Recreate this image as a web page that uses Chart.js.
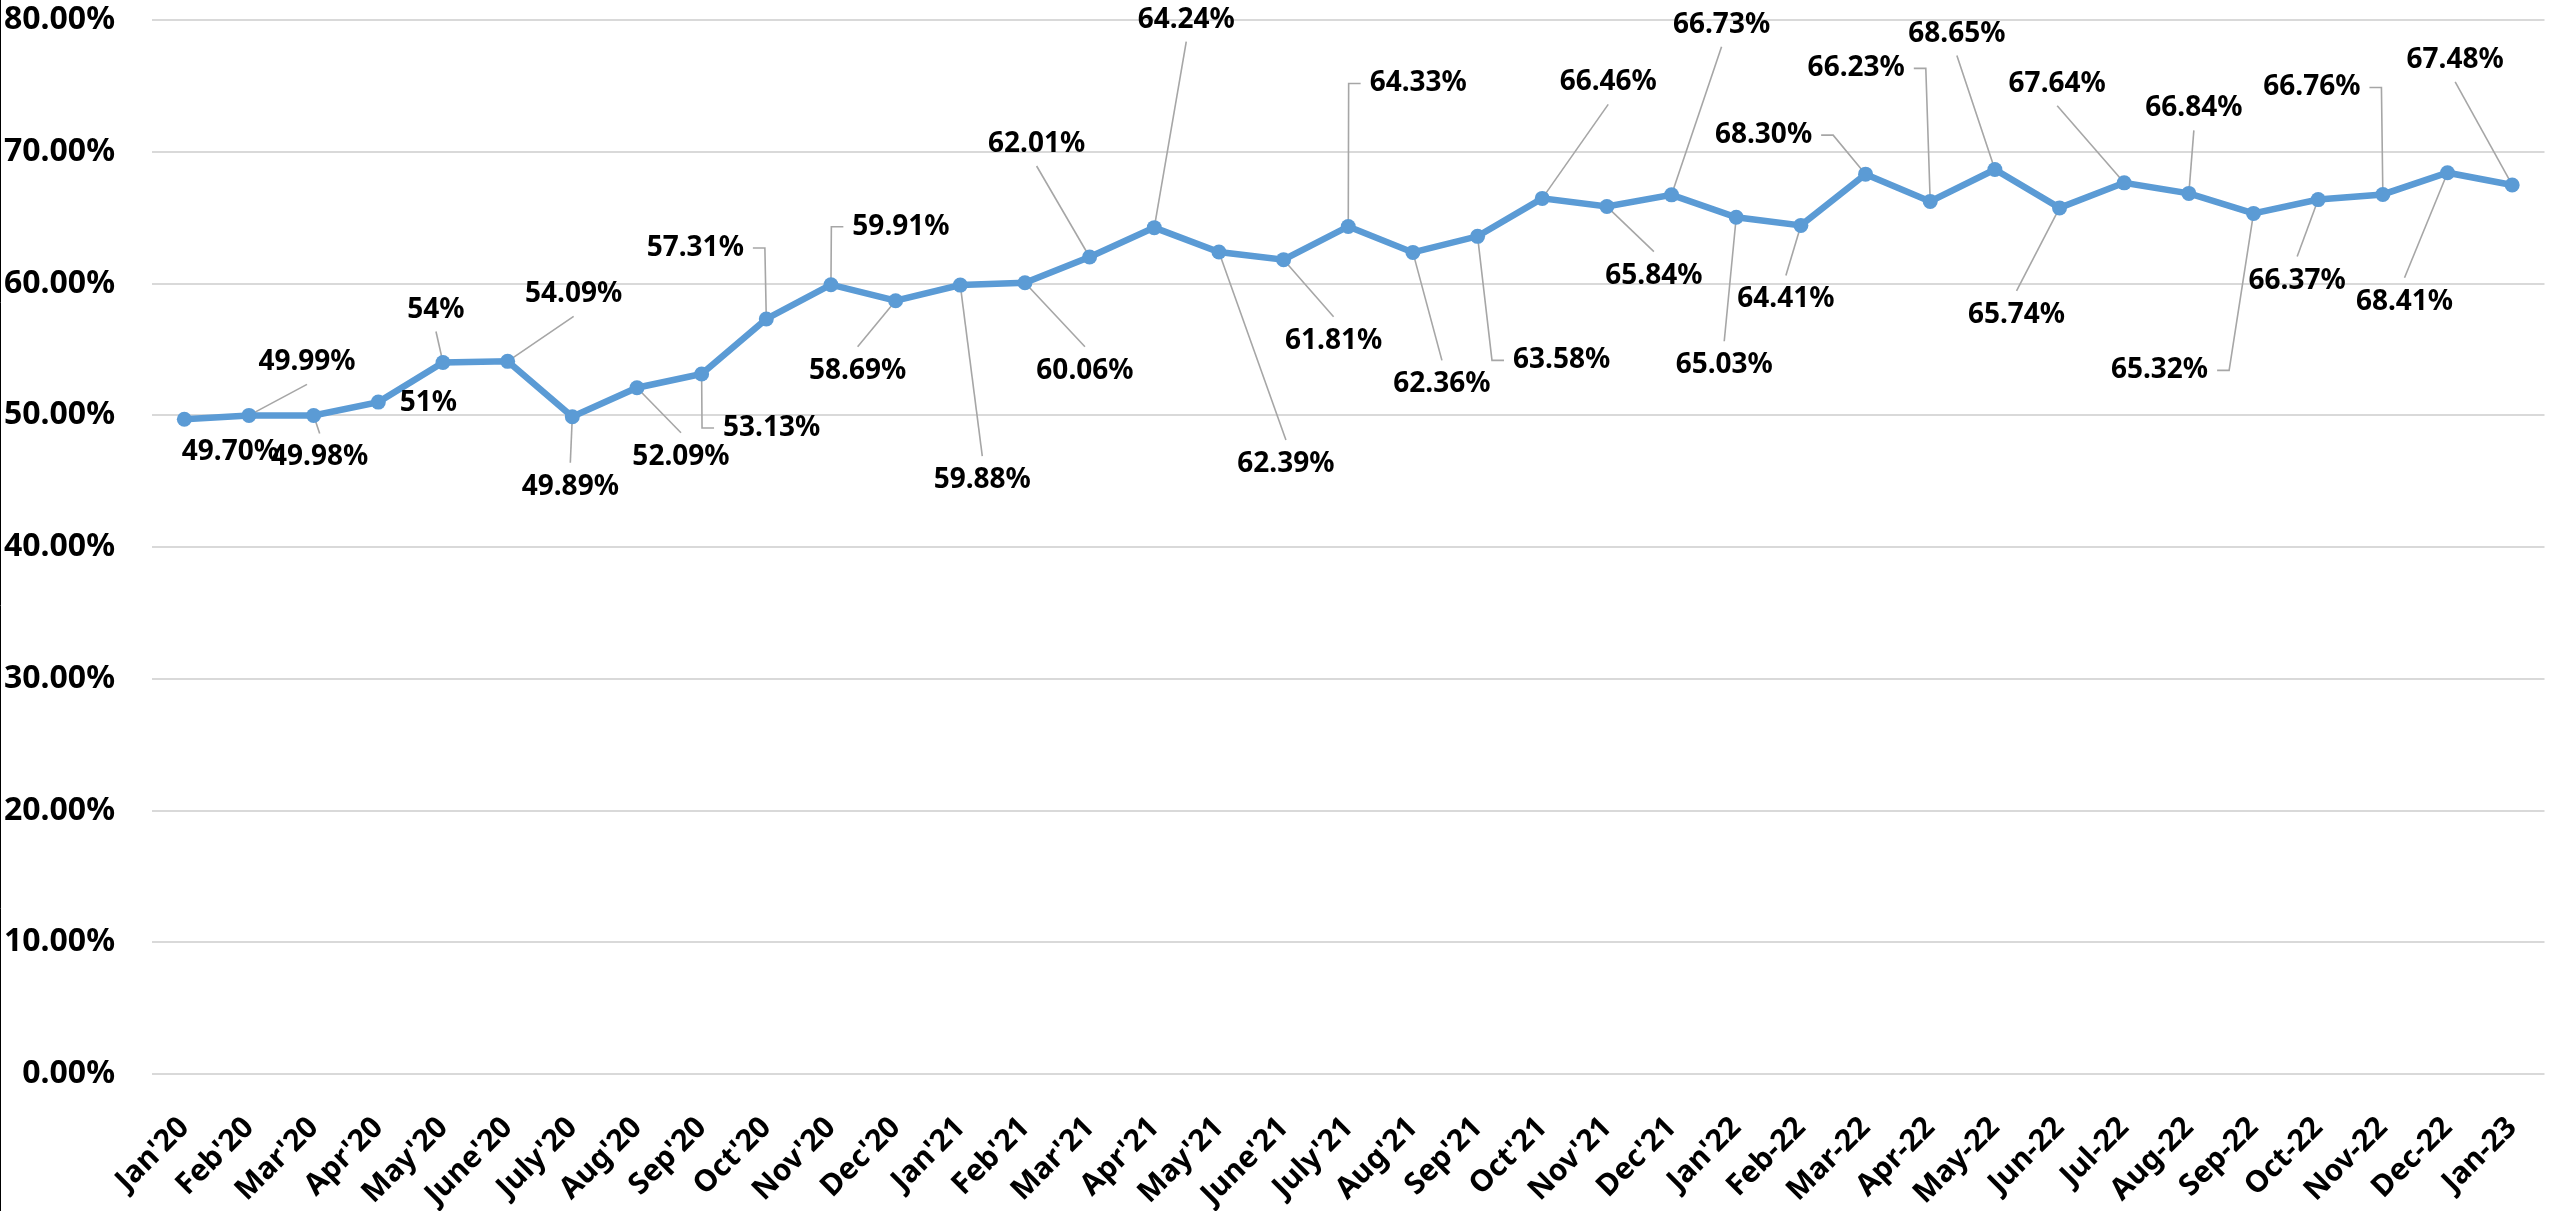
<!DOCTYPE html>
<html>
<head>
<meta charset="utf-8">
<script src="https://cdn.jsdelivr.net/npm/chart.js@4.4.1/dist/chart.umd.min.js"></script>
<style>
  html, body { margin:0; padding:0; background:#fff; }
  #wrap { position:relative; width:2552px; height:1211px; }
</style>
</head>
<body>
<div id="wrap"><canvas id="c"></canvas></div>
<script>
// ---- data ----
const categories = ["Jan'20","Feb'20","Mar'20","Apr'20","May'20","June'20","July'20","Aug'20","Sep'20","Oct'20","Nov'20","Dec'20",
  "Jan'21","Feb'21","Mar'21","Apr'21","May'21","June'21","July'21","Aug'21","Sep'21","Oct'21","Nov'21","Dec'21",
  "Jan'22","Feb-22","Mar-22","Apr-22","May-22","Jun-22","Jul-22","Aug-22","Sep-22","Oct-22","Nov-22","Dec-22","Jan-23"];
const values = [49.70,49.99,49.98,51,54,54.09,49.89,52.09,53.13,57.31,59.91,58.69,
  59.88,60.06,62.01,64.24,62.39,61.81,64.33,62.36,63.58,66.46,65.84,66.73,
  65.03,64.41,68.30,66.23,68.65,65.74,67.64,66.84,65.32,66.37,66.76,68.41,67.48];
const dataLabels = ["49.70%","49.99%","49.98%","51%","54%","54.09%","49.89%","52.09%","53.13%","57.31%","59.91%","58.69%",
  "59.88%","60.06%","62.01%","64.24%","62.39%","61.81%","64.33%","62.36%","63.58%","66.46%","65.84%","66.73%",
  "65.03%","64.41%","68.30%","66.23%","68.65%","65.74%","67.64%","66.84%","65.32%","66.37%","66.76%","68.41%","67.48%"];
const yTicks = [0,10,20,30,40,50,60,70,80];

// ---- label layout (offset from point in px, leader type: 0 none, 1 straight, 2 elbow) ----
const labelLayout = [
  [46,33,0],[58,-53,1],[6,42,1],[50,1,0],[-7,-53,1],[66,-67,1],[-2,70,1],[44,69,1],[70,54,2],[-71,-71,2],[70,-58,2],[-38,70,1],
  [22,195,1],[60,88,1],[-53,-113,1],[32,-208,1],[67,212,1],[50,81,1],[70,-143,2],[29,132,1],[84,124,2],[66,-116,1],[47,69,1],[50,-170,1],
  [-12,148,1],[-15,74,1],[-102,-39,2],[-74,-133,2],[-38,-136,1],[-43,107,1],[-67,-99,1],[5,-85,1],[-94,157,2],[-21,81,1],[-71,-107,2],[-43,129,1],[-57,-125,1]
];

const LABEL_FONT = 'bold 28px "Noto Sans"';

const labelPlugin = {
  id: 'leaderLabels',
  beforeDatasetsDraw(chart) {
    const ctx = chart.ctx;
    const meta = chart.getDatasetMeta(0);
    ctx.save();
    ctx.font = LABEL_FONT;
    ctx.strokeStyle = '#A6A6A6';
    ctx.lineWidth = 1.6;
    meta.data.forEach((pt, i) => {
      const [dx, dy, type] = labelLayout[i];
      if (!type) return;
      const cx = pt.x + dx, cy = pt.y + dy;
      const w = ctx.measureText(dataLabels[i]).width;
      ctx.beginPath();
      if (type === 1) {
        const ey = dy > 0 ? cy - 24 : cy + 22;
        ctx.moveTo(pt.x, pt.y);
        ctx.lineTo(cx, ey);
      } else {
        const side = dx > 0 ? -1 : 1;
        const sx = cx + side * (w / 2 + 9);
        const ex = sx + side * 12;
        ctx.moveTo(pt.x, pt.y);
        ctx.lineTo(ex, cy);
        ctx.lineTo(sx, cy);
      }
      ctx.stroke();
    });
    ctx.restore();
  },
  afterDatasetsDraw(chart) {
    const ctx = chart.ctx;
    const meta = chart.getDatasetMeta(0);
    ctx.save();
    ctx.font = LABEL_FONT;
    ctx.fillStyle = '#000';
    ctx.textAlign = 'center';
    ctx.textBaseline = 'middle';
    meta.data.forEach((pt, i) => {
      const [dx, dy] = labelLayout[i];
      ctx.fillText(dataLabels[i], pt.x + dx, pt.y + dy);
    });
    ctx.restore();
  },
  afterDraw(chart) {
    const ctx = chart.ctx;
    ctx.save();
    ctx.strokeStyle = '#000';
    ctx.lineWidth = 1;
    ctx.beginPath();
    ctx.moveTo(0.5, 0);
    ctx.lineTo(0.5, chart.height);
    ctx.stroke();
    ctx.restore();
  }
};

new Chart(document.getElementById('c'), {
  type: 'line',
  data: {
    labels: categories,
    datasets: [{
      data: values,
      borderColor: '#5B9BD5',
      backgroundColor: '#5B9BD5',
      borderWidth: 6.5,
      pointRadius: 7.5,
      pointHoverRadius: 7.5,
      pointBorderWidth: 0,
      tension: 0,
      clip: false
    }]
  },
  options: {
    responsive: true,
    maintainAspectRatio: false,
    animation: false,
    layout: { padding: { left: 4, right: 5, top: 20, bottom: 0 } },
    plugins: { legend: { display: false }, tooltip: { enabled: false } },
    scales: {
      x: {
        offset: true,
        grid: { display: false, drawTicks: false },
        border: { display: false },
        ticks: {
          autoSkip: false,
          maxRotation: 45,
          minRotation: 45,
          padding: 36,
          color: '#000',
          font: { family: 'Noto Sans', weight: 'bold', size: 30 }
        },
        afterFit(s) { s.height = 137; s.paddingLeft = 0; s.paddingRight = 0; }
      },
      y: {
        min: 0,
        max: 80,
        afterBuildTicks(s) { s.ticks = yTicks.map(v => ({ value: v })); },
        grid: { color: '#D9D9D9', lineWidth: 2, drawTicks: false },
        border: { display: false },
        ticks: {
          padding: 37,
          color: '#000',
          font: { family: 'Noto Sans', weight: 'bold', size: 32 },
          callback: v => v.toFixed(2) + '%'
        },
        afterFit(s) { s.width = 148; s.paddingTop = 0; s.paddingBottom = 0; }
      }
    }
  },
  plugins: [labelPlugin]
});
</script>
</body>
</html>
